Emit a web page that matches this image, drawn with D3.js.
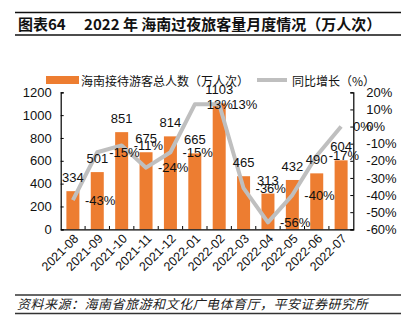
<!DOCTYPE html>
<html><head><meta charset="utf-8">
<script src="https://cdn.jsdelivr.net/npm/d3@7"></script>
<style>
html,body{margin:0;padding:0;background:#fff;}
svg{display:block;}
</style></head>
<body>
<svg id="c" width="412" height="330"></svg>
<script>
const months = ["2021-08","2021-09","2021-10","2021-11","2021-12","2022-01","2022-02","2022-03","2022-04","2022-05","2022-06","2022-07"];
const visitors = [334,501,851,675,814,665,1103,465,313,432,490,604];
const growth = [-43,-15,-11,-24,-15,13,13,-36,-56,-40,-17,0];
const leftTicks = [0,200,400,600,800,1000,1200];
const rightTicks = [-60,-50,-40,-30,-20,-10,0,10,20];
const titleText = "图表64\u3000 2022 年 海南过夜旅客量月度情况（万人次）";
const barName = "海南接待游客总人数（万人次）";
const lineName = "同比增长（%）";
const sourceText = "资料来源：海南省旅游和文化广电体育厅，平安证券研究所";

const svg = d3.select("#c");
const num = "'Liberation Sans', Arial, sans-serif";
const cjk = "'Noto Sans CJK SC', sans-serif";
const orange = "#ED7D31", gray = "#BFBFBF";

// Title block
svg.append("line").attr("x1",15).attr("x2",401).attr("y1",12.5).attr("y2",12.5).attr("stroke","#111").attr("stroke-width",1.5);
svg.append("line").attr("x1",15).attr("x2",401).attr("y1",35).attr("y2",35).attr("stroke","#111").attr("stroke-width",1.5);
svg.append("text").attr("x",18).attr("y",30).attr("font-family",cjk).attr("font-weight","bold").attr("font-size",15).attr("fill","#111").text(titleText);

// Scales
const xs = d3.scaleBand().domain(months).range([60.7,353.3]);
const yL = d3.scaleLinear().domain([0,1200]).range([229.3,92.3]);
const yR = d3.scaleLinear().domain([-60,20]).range([229.3,92.3]);
const cx = i => xs(months[i]) + xs.bandwidth()/2;

// Bars
svg.append("g").selectAll("rect").data(visitors).join("rect")
  .attr("x",(d,i)=>cx(i)-6.5)
  .attr("width",13)
  .attr("y",d=>yL(d)).attr("height",d=>yL(0)-yL(d))
  .attr("fill",orange);

// Line
const line = d3.line().x((d,i)=>cx(i)).y(d=>yR(d));
svg.append("path").datum(growth).attr("d",line).attr("fill","none").attr("stroke",gray).attr("stroke-width",4).attr("stroke-linejoin","round");

// Axes
const axL = svg.append("g").attr("transform","translate(60.7,0)")
  .call(d3.axisLeft(yL).tickValues(leftTicks).tickFormat(d3.format("d")).tickSizeInner(-3).tickSizeOuter(-3).tickPadding(9));
const axR = svg.append("g").attr("transform","translate(353.3,0)")
  .call(d3.axisRight(yR).tickValues(rightTicks).tickFormat(d=>d+"%").tickSizeInner(-3).tickSizeOuter(-3).tickPadding(13));
axR.selectAll("text").attr("text-anchor","start").attr("x",13);
const axB = svg.append("g").attr("transform","translate(0,229.3)")
  .call(d3.axisBottom(xs).tickSize(0).tickFormat(""));
// category separator ticks (inward)
svg.append("g").selectAll("line").data(months.slice(1)).join("line")
  .attr("x1",d=>xs(d)).attr("x2",d=>xs(d)).attr("y1",229.3).attr("y2",226).attr("stroke","#000").attr("stroke-width",1);
[axL,axR,axB].forEach(a=>{
  a.selectAll(".domain").attr("stroke","#000").attr("stroke-width",1.2);
  a.selectAll(".tick line").attr("stroke","#000");
  a.selectAll("text").attr("font-family",num).attr("font-size",13).attr("fill","#111");
});

// x labels
svg.append("g").selectAll("text").data(months).join("text")
  .attr("transform",(d,i)=>`translate(${cx(i)+4},${237}) rotate(-45)`)
  .attr("text-anchor","end").attr("dominant-baseline","middle")
  .attr("font-family",num).attr("font-size",12.5).attr("fill","#111").text(d=>d);

// bar labels
svg.append("g").selectAll("text").data(visitors).join("text")
  .attr("x",(d,i)=>cx(i))
  .attr("y",d=>yL(d)-9)
  .attr("text-anchor","middle").attr("font-family",num).attr("font-size",13).attr("fill","#111").text(d=>d);

// growth labels
svg.append("g").selectAll("text").data(growth).join("text")
  .attr("x",(d,i)=>cx(i)+12)
  .attr("y",d=>yR(d))
  .attr("dominant-baseline","central")
  .attr("font-family",num).attr("font-size",13).attr("fill","#111").text(d=>d+"%");

// Legend
svg.append("rect").attr("x",46).attr("y",76).attr("width",33).attr("height",8).attr("fill",orange);
svg.append("text").attr("x",81).attr("y",80).attr("dominant-baseline","central").attr("font-family",cjk).attr("font-size",12).attr("fill","#111").text(barName);
svg.append("line").attr("x1",257).attr("x2",287).attr("y1",80).attr("y2",80).attr("stroke",gray).attr("stroke-width",4);
svg.append("text").attr("x",292).attr("y",80).attr("dominant-baseline","central").attr("font-family",cjk).attr("font-size",12).attr("fill","#111").text(lineName);

// Footer
svg.append("line").attr("x1",15).attr("x2",401).attr("y1",295).attr("y2",295).attr("stroke","#333").attr("stroke-width",1.5);
svg.append("line").attr("x1",15).attr("x2",401).attr("y1",313.5).attr("y2",313.5).attr("stroke","#333").attr("stroke-width",1.5);
svg.append("text").attr("x",17).attr("y",309).attr("font-family",cjk).attr("font-style","italic").attr("font-size",13).attr("letter-spacing",0.5).attr("fill","#222").text(sourceText);
</script>
</body></html>
